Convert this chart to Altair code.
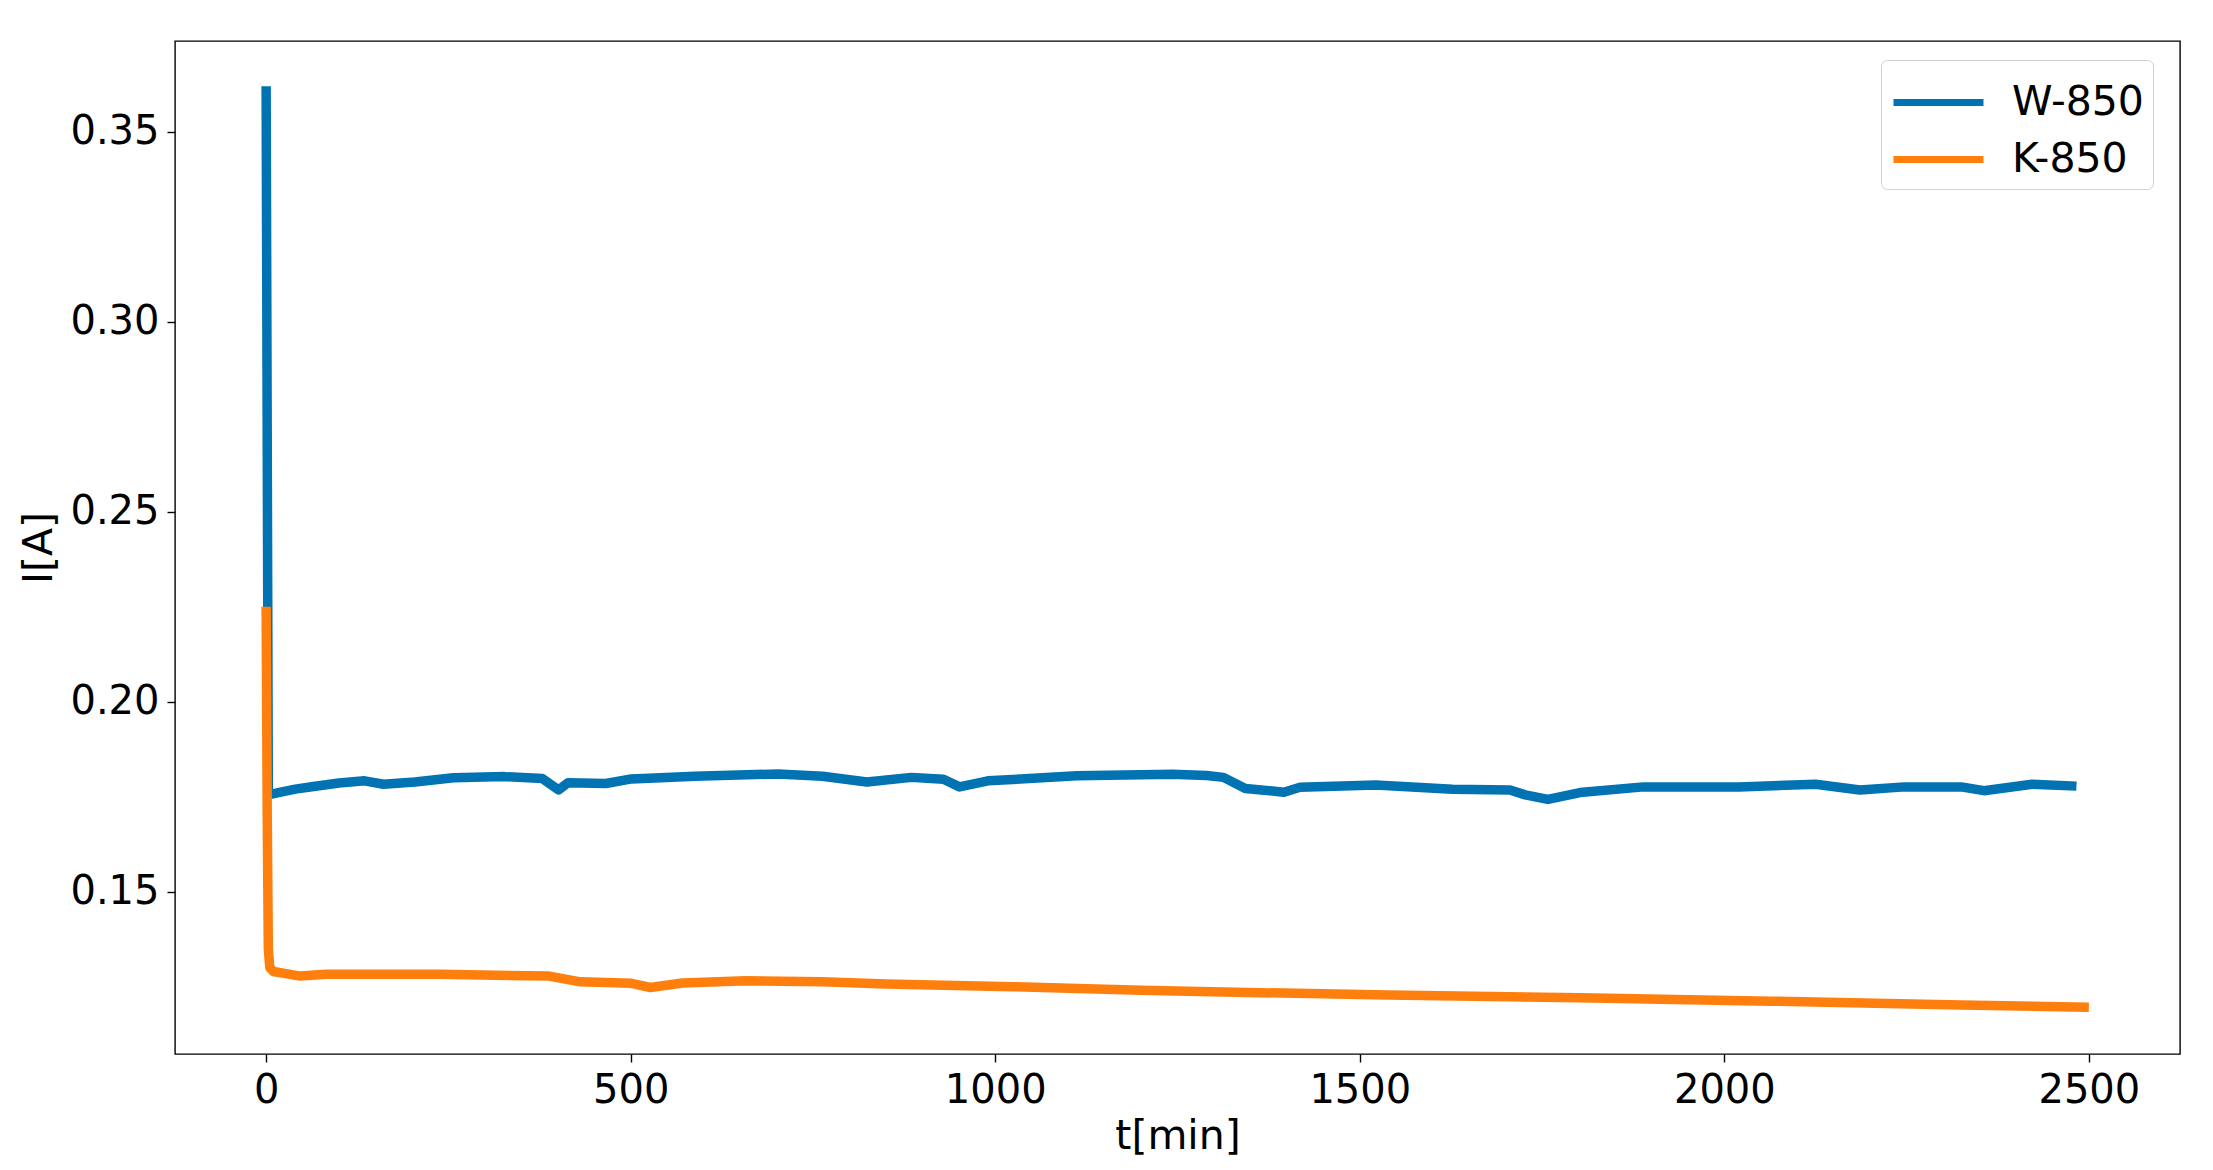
import altair as alt
import pandas as pd

# W-850 series (time in minutes, current in A)
w_t = [0, 3, 20, 40, 65, 100, 135, 161, 204, 257, 327, 379, 401, 414, 466, 501,
       588, 702, 763, 824, 885, 929, 951, 990, 1112, 1243, 1290, 1313, 1343, 1396,
       1418, 1522, 1627, 1706, 1727, 1758, 1802, 1889, 2020, 2125, 2186, 2247,
       2325, 2356, 2422, 2483]
w_i = [0.362, 0.1755, 0.1762, 0.1770, 0.1777, 0.1786, 0.1792, 0.1783, 0.1789,
       0.1800, 0.1803, 0.1798, 0.1768, 0.1787, 0.1785, 0.1797, 0.1804, 0.1810,
       0.1804, 0.1789, 0.1801, 0.1796, 0.1776, 0.1792, 0.1805, 0.1809, 0.1806,
       0.1801, 0.1772, 0.1762, 0.1775, 0.1781, 0.1770, 0.1768, 0.1755, 0.1743,
       0.1761, 0.1776, 0.1776, 0.1783, 0.1768, 0.1776, 0.1776, 0.1766, 0.1783,
       0.1778]

# K-850 series
k_t = [0, 1.5, 3, 5, 10, 47, 82, 239, 388, 431, 501, 527, 571, 658, 763, 850,
       1025, 1200, 1346, 1539, 1802, 2064, 2325, 2500]
k_i = [0.225, 0.170, 0.135, 0.1300, 0.1290, 0.1278, 0.1283, 0.1283, 0.1278,
       0.1263, 0.1259, 0.1248, 0.1260, 0.1266, 0.1263, 0.1257, 0.1250, 0.1241,
       0.1235, 0.1228, 0.1221, 0.1212, 0.1202, 0.1196]

series_names = ["W-850", "K-850"]
series_colors = ["#0173B2", "#FF7F0E"]
x_ticks = [0, 500, 1000, 1500, 2000, 2500]
y_ticks = [0.15, 0.20, 0.25, 0.30, 0.35]

df = pd.concat([
    pd.DataFrame({"t": w_t, "I": w_i, "series": "W-850", "order": range(len(w_t))}),
    pd.DataFrame({"t": k_t, "I": k_i, "series": "K-850", "order": range(len(k_t))}),
])

FONT = "DejaVu Sans"

color = alt.Color(
    "series:N",
    scale=alt.Scale(domain=series_names, range=series_colors),
    legend=alt.Legend(
        title=None, orient="none", legendX=1706, legendY=19,
        direction="vertical", fillColor="white", strokeColor="#d0d0d0",
        cornerRadius=6, padding=9, symbolType="M-1,0H2", symbolSize=3600,
        symbolStrokeWidth=7, labelFontSize=41, labelFont=FONT,
        labelColor="black", labelOffset=55, rowPadding=3,
    ),
)

x = alt.X("t:Q", title="t[min]",
          scale=alt.Scale(domain=[-125, 2625], nice=False, zero=False),
          axis=alt.Axis(values=x_ticks, format="d", grid=False))
y = alt.Y("I:Q", title="I[A]",
          scale=alt.Scale(domain=[0.1073, 0.3739], nice=False, zero=False),
          axis=alt.Axis(values=y_ticks, format=".2f", grid=False))

base = alt.Chart(df).mark_line(strokeWidth=9.5, strokeJoin="round", strokeCap="butt").encode(
    x=x, y=y, color=color, order="order:Q"
)

chart = alt.layer(
    base.transform_filter(alt.datum.series == "W-850"),
    base.transform_filter(alt.datum.series == "K-850"),
).properties(
    width=2005, height=1013,
    autosize=alt.AutoSizeParams(type="none"),
    padding={"left": 167, "top": 33, "right": 25, "bottom": 108},
).configure_view(
    stroke="black", strokeWidth=1.4
).configure_axis(
    labelFont=FONT, titleFont=FONT, labelFontSize=40, titleFontSize=41,
    labelColor="black", titleColor="black", titleFontWeight="normal",
    tickColor="black", tickSize=8, tickWidth=1.4, domain=False,
    labelPadding=8,
).configure_axisY(
    titlePadding=9
).configure_axisX(
    titlePadding=6
)

chart.save("out.html", embed_options={"renderer": "svg", "actions": False})
